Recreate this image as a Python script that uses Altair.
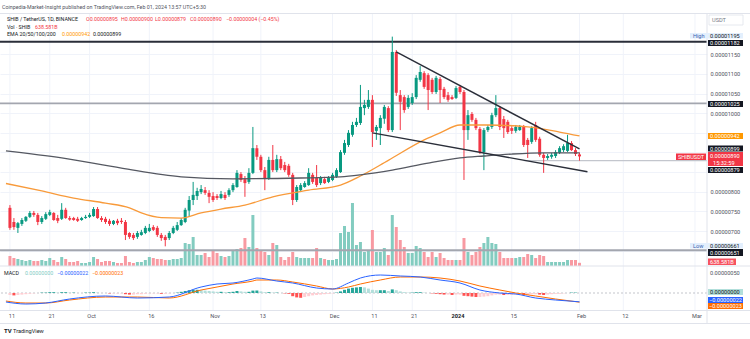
import altair as alt
import pandas as pd

FONT = "Roboto"
DARK = "#131722"
GRAY = "#50535e"
UP, DOWN = "#089981", "#f23645"

# ---------------- data ----------------
dates = pd.date_range("2023-09-11", "2024-02-01", freq="D").strftime("%Y-%m-%d").tolist()

# prices in units of 1e-8 USDT
open_ = [759,723,708,718,726,736,746,741,723,731,
         741,746,733,731,754,733,733,731,728,733,
         736,738,756,733,731,726,718,726,726,723,
         695,690,685,690,695,700,710,708,690,685,
         682,695,703,715,723,752,779,789,799,804,
         797,789,789,784,792,792,804,812,845,832,
         825,848,911,889,855,835,881,855,883,868,
         866,843,779,804,812,817,843,835,822,832,
         825,830,838,850,899,919,945,970,975,1013,
         1016,1034,955,962,986,1013,957,1156,1046,1041,
         1016,1026,1041,1085,1102,1097,1085,1054,1087,1062,
         1046,1041,1039,1067,1054,957,998,983,960,901,
         957,965,995,1013,985,978,962,955,957,965,
         932,927,970,935,894,886,889,891,899,906,
         904,924,906,895]
close = [708,710,720,728,736,746,741,723,733,743,
         748,728,726,754,733,729,728,726,733,736,
         741,756,733,728,723,718,726,720,723,690,
         685,682,695,697,708,708,703,690,682,677,
         695,708,715,728,754,779,792,802,807,797,
         787,779,784,794,784,804,817,848,830,822,
         848,911,889,855,835,881,855,883,860,855,
         843,779,812,817,822,848,825,817,835,822,
         835,843,855,901,924,950,970,978,1016,1021,
         1034,952,965,988,1016,957,1156,1052,1029,1008,
         1039,1041,1090,1105,1067,1059,1054,1090,1059,1041,
         1034,1036,1064,1054,957,995,983,962,901,957,
         965,995,1013,965,962,952,955,965,965,919,
         919,962,932,894,886,891,894,901,911,916,
         924,906,896,890]
high = [766,733,723,733,738,751,751,746,738,748,
        754,748,741,771,759,738,736,736,736,741,
        746,761,761,738,736,731,728,731,733,728,
        697,695,700,703,713,718,715,713,695,690,
        700,713,723,733,759,789,825,810,817,812,
        804,799,794,802,799,809,822,855,850,840,
        860,965,919,894,863,889,919,894,891,876,
        871,848,817,822,827,860,848,868,840,838,
        840,848,860,906,932,957,978,988,1072,1034,
        1059,1046,970,995,1021,1018,1195,1161,1059,1046,
        1046,1051,1097,1120,1107,1102,1090,1095,1092,1067,
        1054,1046,1069,1072,1059,1008,1003,988,965,962,
        970,1001,1046,1018,993,983,967,970,970,970,
        937,967,978,940,899,896,899,906,916,921,
        945,929,911,900]
low = [703,703,695,713,723,733,736,715,718,728,
       738,726,720,728,731,726,726,723,726,731,
       733,736,731,723,718,713,715,715,718,677,
       680,677,680,688,692,697,700,685,675,661,
       677,692,700,713,720,736,766,779,794,792,
       771,774,779,781,779,787,799,810,825,787,
       820,845,881,850,804,830,850,850,855,850,
       838,766,774,802,810,815,820,812,817,820,
       822,827,835,848,894,914,940,965,970,995,
       1011,914,932,919,973,952,952,1044,957,1001,
       1011,1021,1036,1080,1062,1008,1049,1049,1026,1036,
       1029,1034,1036,1049,830,932,978,957,896,855,
       952,960,990,957,937,947,947,950,955,914,
       886,922,927,889,848,881,884,886,896,901,
       901,904,891,879]
# volume in billions of SHIB
volume = [2000,1600,1400,1200,1000,1200,1000,1000,1200,1000,
          1600,1200,800,1800,1400,800,800,1000,600,600,
          800,1800,1400,800,1000,1000,800,600,600,2000,
          800,600,800,800,1200,1800,1600,1400,1400,1200,
          1200,1400,1400,1600,4600,4400,5800,2200,2200,2600,
          1800,3000,2600,2000,1800,2000,3000,3400,3600,5600,
          3800,10200,3600,3200,2800,2200,4600,4200,1800,1200,
          1800,2800,1800,1600,1600,1600,1600,3600,1600,1400,
          1200,1200,1400,6600,8000,6800,12600,4200,4800,2800,
          3200,7200,2800,2800,3600,2200,10200,7800,5200,3800,
          2600,2600,4000,3600,2800,1800,2800,1800,2600,1600,
          1200,1200,1200,1200,5600,2800,2200,2800,3800,4600,
          5800,4600,4400,2800,1600,1600,1600,1600,1800,1800,
          2400,2200,1600,2200,2000,800,800,800,800,800,
          1200,1200,1200,638.58]
# MACD histogram in units of 1e-8
macd_hist = [-5,-6,-5,-4,-3,-2,-1,0,1,1,
             2,2,1,2,2,1,1,0,0,1,
             1,2,1,0,0,-1,-1,-1,-1,-3,
             -4,-4,-3,-3,-2,-1,-1,-1,-2,-2,
             -1,0,1,3,5,7,8,8,7,6,
             5,4,3,3,2,2,3,5,4,3,
             3,6,6,4,2,2,1,1,0,-1,
             -2,-8,-11,-12,-10,-8,-6,-5,-4,-3,
             -2,-1,1,4,8,11,13,14,15,14,
             11,8,7,7,7,5,9,7,4,2,
             1,1,2,2,1,0,-1,-2,-3,-4,
             -4,-5,-4,-4,-7,-8,-9,-10,-10,-9,
             -8,-6,-4,-4,-5,-5,-5,-4,-4,-5,
             -5,-3,-3,-4,-5,-4,-3,-2,-2,-1,
             0,1,1,0]

ema50_dates = ["2023-09-10","2023-09-19","2023-09-27","2023-10-05","2023-10-11","2023-10-14",
               "2023-10-19","2023-10-24","2023-10-29","2023-11-03","2023-11-09","2023-11-16",
               "2023-11-25","2023-12-03","2023-12-08","2023-12-15","2023-12-24","2023-12-28",
               "2024-01-02","2024-01-09","2024-01-19","2024-01-27","2024-02-01"]
ema50_vals = [821,802,784,771,759,746,734,733,746,756,766,787,804,817,840,880,932,950,970,970,965,952,942]

ema200_dates = ["2023-09-10","2023-09-24","2023-10-09","2023-10-24","2023-11-06","2023-11-23",
                "2023-12-03","2023-12-08","2023-12-16","2023-12-25","2024-01-02","2024-01-08",
                "2024-01-15","2024-01-23","2024-02-01"]
ema200_vals = [904,886,860,838,833,835,838,843,855,873,886,891,896,899,899]

macd_dates = ["2023-09-10","2023-09-15","2023-09-20","2023-09-26","2023-10-05","2023-10-13",
              "2023-10-21","2023-10-29","2023-11-02","2023-11-06","2023-11-11","2023-11-12",
              "2023-11-17","2023-11-21","2023-11-27","2023-12-01","2023-12-05","2023-12-08",
              "2023-12-13","2023-12-18","2023-12-23","2023-12-28","2024-01-02","2024-01-07",
              "2024-01-12","2024-01-16","2024-01-21","2024-01-26","2024-02-01"]
macd_vals = [-22.5,-27.5,-25,-15,-7.5,-12.5,-10,15,22.5,25,35,37.5,30,25,12.5,10,25,37.5,
             45,42.5,40,32.5,25,7.5,0,-2.5,-12.5,-17.5,-22]
signal_vals = [-20,-25,-25,-17.5,-10,-10,-12.5,7.5,15,22.5,30,32.5,32.5,27.5,17.5,10,15,22.5,
               32.5,40,40,37.5,30,17.5,7.5,0,-7.5,-15,-23]

trend_names = ["upper", "upper", "lower", "lower"]
trend_dates = ["2023-12-17", "2024-02-01", "2023-12-11", "2024-02-03"]
trend_vals = [1156, 909, 950, 851]

level_vals = [1182, 1025, 651]
last_low = 879
last_low_start = "2024-01-18"

tick_dates = ["2023-09-11","2023-09-21","2023-10-01","2023-10-16","2023-11-01","2023-11-13",
              "2023-12-01","2023-12-11","2023-12-21","2024-01-01","2024-01-15","2024-02-01",
              "2024-02-12","2024-03-01"]
tick_labels = ["11","21","Oct","16","Nov","13","Dec","11","21","2024","15","Feb","12","Mar"]

price_ticks = [650,700,750,800,850,900,950,1000,1050,1100,1150]
hidden_ticks = [650, 850, 900, 950]   # labels covered by price tags

# ---------------- tables ----------------
candles = pd.DataFrame({"date": dates, "open": open_, "close": close, "high": high,
                        "low": low, "vol": volume, "hist": macd_hist})
candles["col"] = [UP if c >= o else DOWN for o, c in zip(open_, close)]
candles["vcol"] = ["#83ccc0" if c >= o else "#f89aa2" for o, c in zip(open_, close)]
hcol = []
for i, h in enumerate(macd_hist):
    prev = macd_hist[i - 1] if i > 0 else h
    if h >= 0:
        hcol.append("#26a69a" if h >= prev else "#b2dfdb")
    else:
        hcol.append("#ff5252" if h < prev else "#ffcdd2")
candles["hcol"] = hcol

ema50 = pd.DataFrame({"date": ema50_dates, "v": ema50_vals})
ema200 = pd.DataFrame({"date": ema200_dates, "v": ema200_vals})
macd = pd.DataFrame({"date": macd_dates, "m": macd_vals, "s": signal_vals})
trend = pd.DataFrame({"name": trend_names, "date": trend_dates, "v": trend_vals})
ticks = pd.DataFrame({"date": tick_dates, "label": tick_labels})
one = pd.DataFrame({"a": [0]})

# ---------------- scales ----------------
xs = alt.Scale(type="utc", domain=[
    alt.DateTime(year=2023, month=9, date=9, hours=18, minutes=17, utc=True),
    alt.DateTime(year=2024, month=3, date=2, hours=18, minutes=14, utc=True)])
ps = alt.Scale(domain=[424.98, 1288.28], nice=False, zero=False)
vs = alt.Scale(domain=[-14600, 53200], nice=False, zero=False)
ms = alt.Scale(domain=[-115, 732.5], nice=False, zero=False)

X = alt.X("date:T", scale=xs, axis=None)
HS = 5.3   # header font size


def txt(s, x, y, color=DARK, size=5.6, align="left", weight="normal"):
    return alt.Chart(one).mark_text(text=s, align=align, baseline="middle", fontSize=size,
                                    color=color, font=FONT, fontWeight=weight).encode(
        x=alt.value(x), y=alt.value(y))


def box(x1, x2, y1, y2, fill, stroke=None):
    kw = {"fill": fill}
    if stroke:
        kw.update(stroke=stroke, strokeWidth=0.8)
    return alt.Chart(one).mark_rect(**kw).encode(
        x=alt.value(x1), x2=alt.value(x2), y=alt.value(y1), y2=alt.value(y2))


def hline(y, color="#e0e3eb", x1=0, x2=750, w=1):
    return alt.Chart(one).mark_rule(color=color, strokeWidth=w).encode(
        x=alt.value(x1), x2=alt.value(x2), y=alt.value(y))


layers = []

# vertical grid
layers.append(alt.Chart(ticks).mark_rule(color="#f0f3fa", strokeWidth=1).encode(
    x=X, y=alt.value(14), y2=alt.value(310)))

# volume
layers.append(alt.Chart(candles).mark_bar(size=3).encode(
    x=X, y=alt.Y("vol:Q", scale=vs, axis=None), y2=alt.datum(0),
    color=alt.Color("vcol:N", scale=None)))

# horizontal levels
lv_colors = ["#2a2e39", "#a3a6af", "#a3a6af"]
for v, c in zip(level_vals, lv_colors):
    layers.append(alt.Chart(pd.DataFrame({"v": [v]})).mark_rule(color=c, strokeWidth=1.8).encode(
        y=alt.Y("v:Q", scale=ps, axis=None)))
layers.append(alt.Chart(pd.DataFrame({"date": [last_low_start], "v": [last_low]})).mark_rule(
    color="#c3c6cd", strokeWidth=1.2).encode(
    x=X, x2=alt.value(707), y=alt.Y("v:Q", scale=ps, axis=None)))

# candles
hide_expr = " || ".join(f"datum.value == {v}" for v in hidden_ticks)
layers.append(alt.Chart(candles).mark_rule(strokeWidth=1).encode(
    x=X, y=alt.Y("low:Q", scale=ps, axis=None), y2="high:Q",
    color=alt.Color("col:N", scale=None)))
layers.append(alt.Chart(candles).mark_bar(size=3).encode(
    x=X,
    y=alt.Y("open:Q", scale=ps, axis=alt.Axis(
        orient="right", values=price_ticks, title=None,
        labelExpr=f"({hide_expr}) ? '' : format(datum.value/100000000, '.8f')",
        ticks=False, domain=False, grid=True, gridColor="#f0f3fa", gridWidth=1,
        labelFontSize=5.6, labelFont=FONT, labelColor=GRAY, labelPadding=3,
        labelAlign="left")),
    y2="close:Q", color=alt.Color("col:N", scale=None)))

# EMAs
layers.append(alt.Chart(ema50).mark_line(color="#f89a3a", strokeWidth=1.3, interpolate="monotone").encode(
    x=X, y=alt.Y("v:Q", scale=ps, axis=None)))
layers.append(alt.Chart(ema200).mark_line(color="#555861", strokeWidth=1.3, interpolate="monotone").encode(
    x=X, y=alt.Y("v:Q", scale=ps, axis=None)))

# trendlines
layers.append(alt.Chart(trend).mark_line(color="#2a2e39", strokeWidth=1.4).encode(
    x=X, y=alt.Y("v:Q", scale=ps, axis=None), detail="name:N"))

# MACD pane
layers.append(alt.Chart(pd.DataFrame({"z": [0]})).mark_rule(
    color="#9598a1", strokeDash=[2, 2], strokeWidth=0.8, opacity=0.7).encode(
    y=alt.Y("z:Q", scale=ms, axis=None)))
layers.append(alt.Chart(candles).mark_bar(size=3).encode(
    x=X, y=alt.Y("hist:Q", scale=ms, axis=None), y2=alt.datum(0),
    color=alt.Color("hcol:N", scale=None)))
layers.append(alt.Chart(macd).mark_line(color="#ff6d00", strokeWidth=1, interpolate="monotone").encode(
    x=X, y=alt.Y("s:Q", scale=ms, axis=None)))
layers.append(alt.Chart(macd).mark_line(color="#2962ff", strokeWidth=1, interpolate="monotone").encode(
    x=X, y=alt.Y("m:Q", scale=ms, axis=None)))
layers.append(alt.Chart(pd.DataFrame({"m": [50]})).mark_text(
    text="0.00000050", align="left", baseline="middle", fontSize=5.6, font=FONT, color=GRAY).encode(
    x=alt.value(710), y=alt.Y("m:Q", scale=ms, axis=None)))

# time axis labels
normal = ticks[ticks["label"] != "2024"]
bold = ticks[ticks["label"] == "2024"]
layers.append(alt.Chart(normal).mark_text(fontSize=5.6, font=FONT, color=GRAY, baseline="middle", dx=2).encode(
    x=X, y=alt.value(316), text="label:N"))
layers.append(alt.Chart(bold).mark_text(fontSize=5.6, font=FONT, color=DARK, fontWeight="bold",
                                        baseline="middle", dx=2).encode(
    x=X, y=alt.value(316), text="label:N"))

# frame lines
layers += [hline(13.5), hline(266), hline(310.5), hline(323.5)]
layers.append(alt.Chart(one).mark_rule(color="#e0e3eb").encode(
    x=alt.value(707), y=alt.value(13.5), y2=alt.value(323.5)))

# header
layers += [
    txt("Coinpedia-Market-Insight published on TradingView.com, Feb 01, 2024 13:57 UTC+5:30", 2, 6.7, GRAY, HS),
    txt("SHIB / TetherUS, 1D, BINANCE", 7, 19.3, DARK, HS),
    txt("O0.00000895", 86, 19.3, DOWN, HS), txt("H0.00000900", 121, 19.3, DOWN, HS),
    txt("L0.00000879", 155, 19.3, DOWN, HS), txt("C0.00000890", 190, 19.3, DOWN, HS),
    txt("\u22120.00000004 (\u22120.45%)", 226, 19.3, DOWN, HS),
    txt("Vol \u00b7 SHIB", 7, 26.7, DARK, HS), txt("638.581B", 35, 26.7, DOWN, HS),
    txt("EMA 20/50/100/200", 7, 34.3, DARK, HS), txt("0.00000942", 62, 34.3, "#ff9800", HS),
    txt("0.00000899", 93, 34.3, DARK, HS),
    txt("MACD", 4, 273.3, DARK, HS), txt("0.00000000", 25, 273.3, "#80cbc4", HS),
    txt("\u22120.00000022", 57, 273.3, "#2962ff", HS), txt("\u22120.00000023", 92, 273.3, "#ff6d00", HS),
    txt("TV", 4, 331, DARK, 6, weight="bold"), txt("TradingView", 13, 331, DARK, 5.6),
]

# right-side price tags
W = "white"
layers += [
    box(709, 743, 15, 25, "white", "#e0e3eb"), txt("USDT", 712, 20, "#787b86"),
    box(690, 743, 33, 38.5, "#e3effd"), txt("High", 693, 35.8, "#3a5fb0"), txt("0.00001195", 710, 35.8, DARK),
    box(708, 743, 40, 46, DARK), txt("0.00001182", 710, 43, W),
    box(708, 743, 101, 107, DARK), txt("0.00001025", 710, 104, W),
    box(708, 743, 133, 139, "#ff9800"), txt("0.00000942", 710, 136, W),
    box(708, 743, 145.5, 151.5, DARK), txt("0.00000899", 710, 148.5, W),
    box(708, 743, 152, 166, DOWN), txt("0.00000890", 710, 155.5, W), txt("15:32:59", 713, 162.5, W),
    box(676, 706, 153.5, 160, DOWN), txt("SHIBUSDT", 691, 156.8, W, align="center"),
    box(708, 743, 167, 173, DARK), txt("0.00000879", 710, 170, W),
    box(690, 743, 243, 248.5, "#e3effd"), txt("Low", 693, 245.8, "#3a5fb0"), txt("0.00000661", 710, 245.8, DARK),
    box(708, 743, 249, 256, DARK), txt("0.00000651", 710, 252.5, W),
    box(708, 736, 258.5, 265, "#f7525f"), txt("638.581B", 710, 261.8, W),
    box(708, 743, 289, 295, "#b2dfdb"), txt("0.00000000", 710, 292, DARK),
    box(708, 743, 297, 303, "#2962ff"), txt("\u22120.00000022", 709, 300, W),
    box(708, 743, 303, 309, "#ff6d00"), txt("\u22120.00000023", 709, 306, W),
]

chart = alt.layer(*layers).resolve_scale(y="independent").properties(
    width=707, height=339,
    autosize=alt.AutoSizeParams(type="none"),
    padding={"left": 0, "top": 0, "right": 43, "bottom": 0},
    background="white",
).configure_view(stroke=None)

chart.save("out.html", embed_options={"renderer": "svg", "actions": False})
